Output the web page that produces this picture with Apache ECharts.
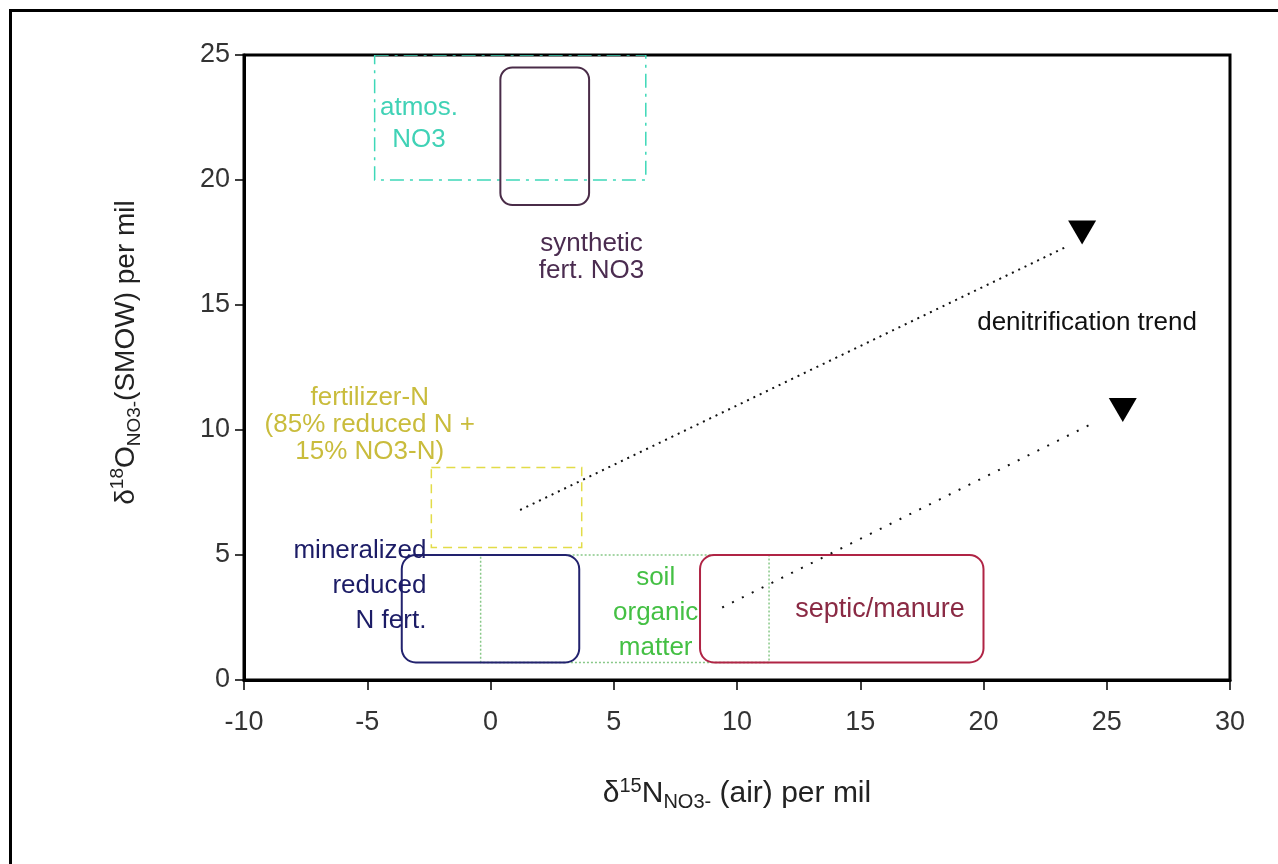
<!DOCTYPE html>
<html>
<head>
<meta charset="utf-8">
<title>Nitrate isotope source fields</title>
<script src="https://cdn.jsdelivr.net/npm/echarts@6/dist/echarts.min.js"></script>
<style>
    html, body { margin: 0; padding: 0; background: #fff; }
    #chart { width: 1278px; height: 864px; }
    #frame {
        position: absolute; left: 9px; top: 9px; width: 1300px; height: 900px;
        border-left: 3px solid #000; border-top: 3px solid #000;
        pointer-events: none;
    }
</style>
</head>
<body>
<div id="chart"></div>
<div id="frame"></div>
<script>

// Data
// ------------------------------

// Axis ticks
var xTicks = [-10, -5, 0, 5, 10, 15, 20, 25, 30];
var yTicks = [0, 5, 10, 15, 20, 25];

// Source fields [xMin, xMax, yMin, yMax]
var atmosBox = [-4.7, 6.3, 20, 25];
var syntheticBox = [0.4, 4.0, 19, 24.5];
var fertilizerBox = [-2.4, 3.7, 5.3, 8.5];
var soilBox = [-0.4, 11.3, 0.7, 5];
var mineralizedBox = [-3.6, 3.6, 0.7, 5];
var septicBox = [8.5, 20, 0.7, 5];

// Denitrification trend lines
var trendA = [[1.2, 6.8], [23.3, 17.3]];
var trendB = [[9.4, 2.9], [24.5, 10.3]];
var trendHeads = [[24.0, 17.9], [25.65, 10.8]];

// Labels [x, y, text]
var atmosLabel = [-2.9, 22.25, 'atmos.\nNO3'];
var syntheticLabel = [4.1, 16.9, 'synthetic\nfert. NO3'];
var fertilizerLabel = [-4.9, 10.2, 'fertilizer-N\n(85% reduced N +\n15% NO3-N)'];
var mineralizedLabel = [-2.6, 3.75, 'mineralized\nreduced\nN fert.'];
var soilLabel = [6.7, 2.7, 'soil\norganic\nmatter'];
var septicLabel = [15.8, 2.8, 'septic/manure'];
var trendLabel = [24.2, 14.3, 'denitrification trend'];


// Setup module
// ------------------------------

var FONT = '"Liberation Sans", Arial, sans-serif';

// Box drawn through the axes
function boxSeries(name, box, style, radius) {
    return {
        name: name,
        type: 'custom',
        coordinateSystem: 'cartesian2d',
        clip: true,
        silent: true,
        data: [box],
        renderItem: function(params, api) {
            var p1 = api.coord([api.value(0), api.value(3)]);
            var p2 = api.coord([api.value(1), api.value(2)]);
            return {
                type: 'rect',
                shape: { x: p1[0], y: p1[1], width: p2[0] - p1[0], height: p2[1] - p1[1], r: radius || 0 },
                style: Object.assign({ fill: 'none' }, style)
            };
        }
    };
}

// Text label drawn through the axes
function labelSeries(label, color, align, lineHeight, fontSize) {
    return {
        type: 'custom',
        coordinateSystem: 'cartesian2d',
        silent: true,
        z: 5,
        data: [[label[0], label[1]]],
        renderItem: function(params, api) {
            var p = api.coord([api.value(0), api.value(1)]);
            return {
                type: 'text',
                x: p[0],
                y: p[1],
                style: {
                    text: label[2],
                    fill: color,
                    fontSize: fontSize || 26,
                    fontFamily: FONT,
                    align: align || 'center',
                    verticalAlign: 'middle',
                    lineHeight: lineHeight || 27
                }
            };
        }
    };
}

// Rich styles for axis titles
function titleRich(size, small) {
    return {
        t: { fontSize: size, color: '#222', fontFamily: FONT, lineHeight: 36, verticalAlign: 'middle' },
        sup: { fontSize: small, color: '#222', fontFamily: FONT, lineHeight: 36, verticalAlign: 'top' },
        sub: { fontSize: small, color: '#222', fontFamily: FONT, lineHeight: 36, verticalAlign: 'bottom' }
    };
}

var chart = echarts.init(document.getElementById('chart'));

chart.setOption({
    animation: false,
    textStyle: { fontFamily: FONT },

    grid: {
        left: 244,
        right: 48,
        top: 55,
        bottom: 184,
        show: true,
        borderColor: '#000',
        borderWidth: 3
    },

    xAxis: {
        type: 'value',
        min: xTicks[0],
        max: xTicks[xTicks.length - 1],
        interval: 5,
        name: '{t|δ}{sup|15}{t|N}{sub|NO3-}{t| (air) per mil}',
        nameLocation: 'middle',
        nameGap: 96,
        nameTextStyle: { rich: titleRich(30, 20) },
        axisLine: { onZero: false, lineStyle: { color: '#000', width: 3 } },
        axisTick: { length: 10, lineStyle: { color: '#000', width: 1.5 } },
        axisLabel: { fontSize: 27, color: '#333', margin: 29 },
        splitLine: { show: false }
    },

    yAxis: {
        type: 'value',
        min: yTicks[0],
        max: yTicks[yTicks.length - 1],
        interval: 5,
        name: '{t|δ}{sup|18}{t|O}{sub|NO3-}{t|(SMOW) per mil}',
        nameLocation: 'middle',
        nameGap: 100,
        nameTextStyle: { rich: titleRich(28, 19), padding: [0, 0, 0, 30] },
        axisLine: { onZero: false, lineStyle: { color: '#000', width: 3 } },
        axisTick: { length: 9, lineStyle: { color: '#000', width: 1.5 } },
        axisLabel: { fontSize: 27, color: '#333', margin: 14 },
        splitLine: { show: false }
    },

    series: [
        boxSeries('atmos. NO3', atmosBox, { stroke: '#3ed8b8', lineWidth: 1.5, lineDash: [14, 6, 3, 6] }),
        boxSeries('fertilizer-N', fertilizerBox, { stroke: '#e2dc48', lineWidth: 1.5, lineDash: [9, 6] }),
        boxSeries('soil organic matter', soilBox, { stroke: '#88c888', lineWidth: 1.5, lineDash: [2, 2] }),
        boxSeries('mineralized reduced N fert.', mineralizedBox, { stroke: '#22226e', lineWidth: 2 }, 14),
        boxSeries('septic/manure', septicBox, { stroke: '#b02445', lineWidth: 2 }, 14),
        boxSeries('synthetic fert. NO3', syntheticBox, { stroke: '#4a2c48', lineWidth: 2 }, 12),

        {
            name: 'trend A',
            type: 'line',
            data: trendA,
            symbol: 'none',
            silent: true,
            lineStyle: { color: '#111', width: 2, type: [2, 5] }
        },
        {
            name: 'trend B',
            type: 'line',
            data: trendB,
            symbol: 'none',
            silent: true,
            lineStyle: { color: '#111', width: 2, type: [2, 9] }
        },
        {
            name: 'trend heads',
            type: 'scatter',
            data: trendHeads,
            symbol: 'triangle',
            symbolRotate: 180,
            symbolSize: [28, 24],
            silent: true,
            itemStyle: { color: '#000', opacity: 1 }
        },

        labelSeries(atmosLabel, '#40d2b6', 'center', 32),
        labelSeries(syntheticLabel, '#4b2c50'),
        labelSeries(fertilizerLabel, '#c9bc3c'),
        labelSeries(mineralizedLabel, '#1c1c66', 'right', 35),
        labelSeries(soilLabel, '#44c044', 'center', 35),
        labelSeries(septicLabel, '#8a2a44', 'center', 27, 27),
        labelSeries(trendLabel, '#111')
    ]
});
</script>
</body>
</html>
